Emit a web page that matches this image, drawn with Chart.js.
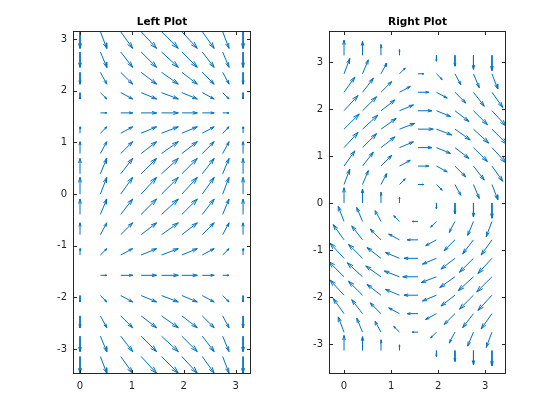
<!DOCTYPE html>
<html>
<head>
<meta charset="utf-8">
<script src="https://cdn.jsdelivr.net/npm/chart.js@4.4.1/dist/chart.umd.min.js"></script>
<style>
  html, body { margin: 0; padding: 0; background: #fff; }
  #wrap { position: relative; width: 560px; height: 420px; }
  canvas { position: absolute; top: 0; }
</style>
</head>
<body>
<div id="wrap">
  <canvas id="leftChart" width="280" height="420" style="left:0"></canvas>
  <canvas id="rightChart" width="280" height="420" style="left:280px"></canvas>
</div>
<script>
// grid positions (pi/8 steps)
const xCols = [0, 0.393, 0.785, 1.178, 1.571, 1.963, 2.356, 2.749, 3.142];
const yRows = [-3.142, -2.749, -2.356, -1.963, -1.571, -1.178, -0.785, -0.393, 0,
               0.393, 0.785, 1.178, 1.571, 1.963, 2.356, 2.749, 3.142];

// left field: u varies by column, v by row
const leftU = [0, 0.38, 0.71, 0.92, 1, 0.92, 0.71, 0.38, 0];
const leftV = [-1, -0.92, -0.71, -0.38, 0, 0.38, 0.71, 0.92, 1,
               0.92, 0.71, 0.38, 0, -0.38, -0.71, -0.92, -1];

// right field: u varies by row, v by column
const rightU = [0, -0.38, -0.71, -0.92, -1, -0.92, -0.71, -0.38, 0,
                0.38, 0.71, 0.92, 1, 0.92, 0.71, 0.38, 0];
const rightV = [1, 0.92, 0.71, 0.38, 0, -0.38, -0.71, -0.92, -1];

const xTicks = [0, 1, 2, 3];
const yTicks = [-3, -2, -1, 0, 1, 2, 3];

const arrowScale = 0.3235;
const headLen = 0.3, headWidth = 0.3;
const blue = '#0072BD';
const axisColor = '#262626';

function arrowPoints(getU, getV) {
  const pts = [];
  const gap = {x: null, y: null};
  yRows.forEach((y, r) => {
    xCols.forEach((x, c) => {
      const su = getU(r, c) * arrowScale;
      const sv = getV(r, c) * arrowScale;
      if (su === 0 && sv === 0) return;
      const tx = x + su, ty = y + sv;
      pts.push({x: x, y: y}, {x: tx, y: ty}, gap);
      pts.push(
        {x: tx - headLen * (su + headWidth * sv), y: ty - headLen * (sv - headWidth * su)},
        {x: tx, y: ty},
        {x: tx - headLen * (su - headWidth * sv), y: ty - headLen * (sv + headWidth * su)},
        gap
      );
    });
  });
  return pts;
}

// box, inward ticks and title centred over the plot area
const boxPlugin = {
  id: 'box',
  afterDraw(chart) {
    const {ctx, chartArea: a, scales} = chart;
    const L = Math.round(a.left) + 0.5, R = Math.round(a.right) - 0.5;
    const T = Math.round(a.top) + 0.5, B = Math.round(a.bottom) - 0.5;
    const tk = 3.5;
    ctx.save();
    ctx.strokeStyle = axisColor;
    ctx.lineWidth = 1;
    ctx.strokeRect(L, T, R - L, B - T);
    ctx.beginPath();
    xTicks.forEach(v => {
      const px = Math.round(scales.x.getPixelForValue(v)) + 0.5;
      ctx.moveTo(px, B); ctx.lineTo(px, B - tk);
      ctx.moveTo(px, T); ctx.lineTo(px, T + tk);
    });
    yTicks.forEach(v => {
      const py = Math.round(scales.y.getPixelForValue(v)) + 0.5;
      ctx.moveTo(L, py); ctx.lineTo(L + tk, py);
      ctx.moveTo(R, py); ctx.lineTo(R - tk, py);
    });
    ctx.stroke();
    ctx.fillStyle = '#000';
    ctx.font = 'bold 10.5px "DejaVu Sans"';
    ctx.textAlign = 'center';
    ctx.textBaseline = 'middle';
    ctx.fillText(chart.options.plotTitle, (a.left + a.right) / 2, 22);
    ctx.restore();
  }
};

function quiverChart(id, title, pts, xMin, xMax, yMin, yMax, yAxisWidth, padRight) {
  return new Chart(document.getElementById(id), {
    type: 'scatter',
    data: {
      datasets: [{
        data: pts,
        showLine: true,
        spanGaps: false,
        borderColor: blue,
        borderWidth: 1,
        pointRadius: 0,
        tension: 0
      }]
    },
    options: {
      plotTitle: title,
      responsive: false,
      animation: false,
      layout: {padding: {left: 0, right: padRight, top: 31, bottom: 0}},
      plugins: {
        legend: {display: false},
        tooltip: {enabled: false},
        title: {display: false}
      },
      scales: {
        x: {
          type: 'linear',
          min: xMin, max: xMax,
          grid: {display: false, drawTicks: false},
          border: {display: false},
          afterBuildTicks: s => { s.ticks = xTicks.map(v => ({value: v})); },
          afterFit: s => { s.height = 46; },
          ticks: {
            color: axisColor,
            font: {family: 'DejaVu Sans', size: 10},
            padding: 6,
            maxRotation: 0,
            callback: v => String(v)
          }
        },
        y: {
          type: 'linear',
          min: yMin, max: yMax,
          grid: {display: false, drawTicks: false},
          border: {display: false},
          afterBuildTicks: s => { s.ticks = yTicks.map(v => ({value: v})); },
          afterFit: s => { s.width = yAxisWidth; },
          ticks: {
            color: axisColor,
            font: {family: 'DejaVu Sans', size: 10},
            padding: 6,
            callback: v => String(v)
          }
        }
      }
    },
    plugins: [boxPlugin]
  });
}

quiverChart('leftChart', 'Left Plot',
  arrowPoints((r, c) => leftU[c], (r, c) => leftV[r]),
  -0.135, 3.295, -3.48, 3.155, 73, 29);

quiverChart('rightChart', 'Right Plot',
  arrowPoints((r, c) => rightU[r], (r, c) => rightV[c]),
  -0.319, 3.44, -3.64, 3.66, 49, 54);
</script>
</body>
</html>
